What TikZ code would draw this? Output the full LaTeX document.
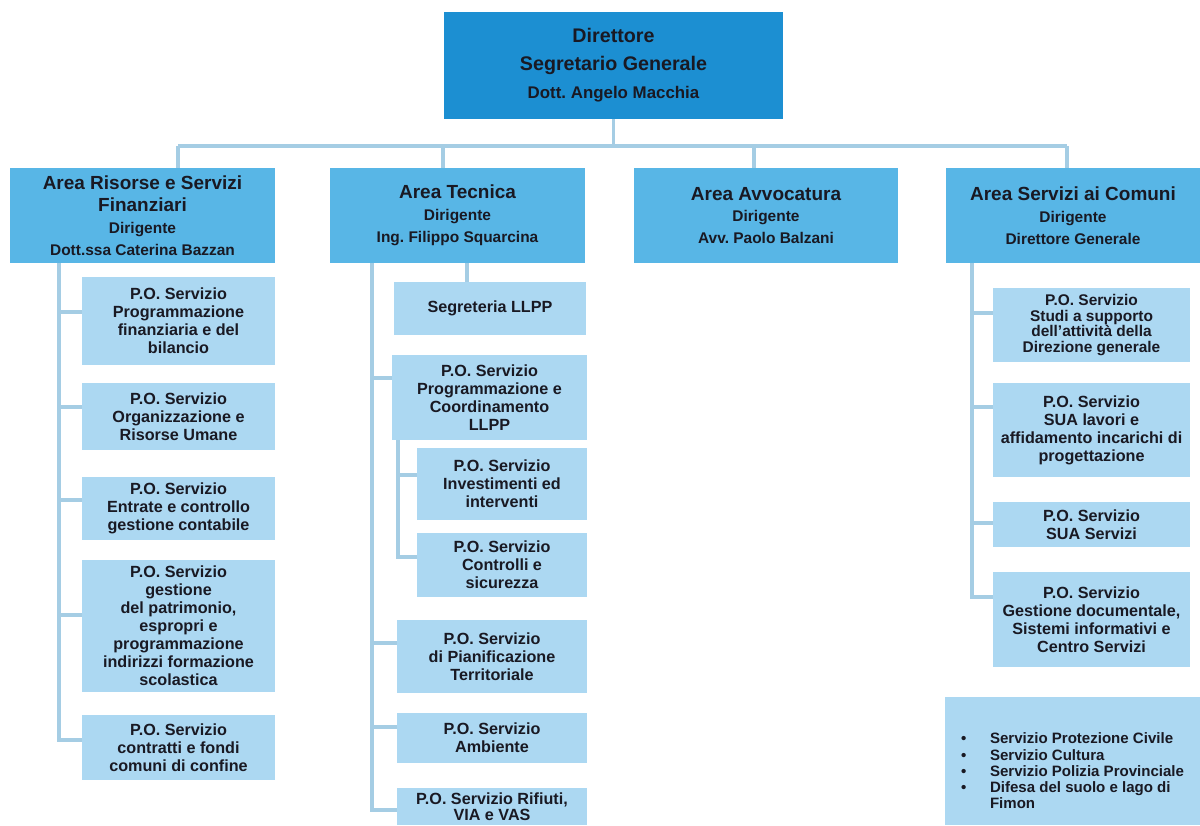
\documentclass[tikz,border=0pt]{standalone}
\usepackage{fontspec}
\setmainfont{Liberation Sans}
\usepackage{xcolor}
\usetikzlibrary{positioning}

\definecolor{dirblue}{RGB}{28,143,210}
\definecolor{areablue}{RGB}{88,182,230}
\definecolor{poblue}{RGB}{172,216,242}
\definecolor{linkblue}{RGB}{165,205,228}
\definecolor{ink}{RGB}{25,25,35}

\newcommand\dirfont{\fontsize{14}{20}\selectfont\bfseries}
\newcommand\dirsub{\fontsize{12}{20}\selectfont}
\newcommand\areafont{\fontsize{13.5}{15.5}\selectfont\bfseries}
\newcommand\areasub{\fontsize{11}{15.5}\selectfont}
\newcommand\pofont{\fontsize{11.5}{12.8}\selectfont\bfseries}
\newcommand\listfont{\fontsize{10.7}{11.5}\selectfont\bfseries}

\tikzset{
  box/.style={rectangle,inner sep=1pt,align=center,text=ink,font=\pofont},
  dirbox/.style={box,fill=dirblue,font=\dirfont},
  areabox/.style={box,fill=areablue,font=\areafont},
  pobox/.style={box,fill=poblue},
  bw/.style={minimum width=#1*0.025cm},
  bh/.style={minimum height=#1*0.025cm},
  link/.style={draw=linkblue,line width=2.8pt}
}

\begin{document}
\frenchspacing
\begin{tikzpicture}[x=0.025cm,y=-0.025cm]
\fill[white,use as bounding box] (0,0) rectangle (1200,825);
% vertice
\node[dirbox,bw=339,bh=107] (dir) at (613.5,65.5) {Direttore\\Segretario Generale\\ \dirsub Dott. Angelo Macchia};
% aree
\node[areabox,bw=265,bh=95] (ar) at (142.5,215.5) {Area Risorse e Servizi\\Finanziari\\ \areasub Dirigente\\ \areasub Dott.ssa Caterina Bazzan};
\node[areabox,bw=255,bh=95] (at) at (457.5,215.5) {Area Tecnica\\ \areasub Dirigente\\ \areasub Ing. Filippo Squarcina};
\node[areabox,bw=264,bh=95] (aa) at (766,215.5) {Area Avvocatura\\ \areasub Dirigente\\ \areasub Avv. Paolo Balzani};
\node[areabox,bw=254,bh=95] (as) at (1073,215.5) {Area Servizi ai Comuni\\ \areasub Dirigente\\ \areasub Direttore Generale};
% area risorse
\node[pobox,bw=193,bh=88] (l1) at (178.5,321) {P.O. Servizio\\Programmazione\\finanziaria e del\\bilancio};
\node[pobox,bw=193,bh=67] (l2) at (178.5,416.5) {P.O. Servizio\\Organizzazione e\\Risorse Umane};
\node[pobox,bw=193,bh=63] (l3) at (178.5,508.5) {P.O. Servizio\\Entrate e controllo\\gestione contabile};
\node[pobox,bw=193,bh=132] (l4) at (178.5,626) {P.O. Servizio\\gestione\\del patrimonio,\\espropri e\\programmazione\\indirizzi formazione\\scolastica};
\node[pobox,bw=193,bh=65] (l5) at (178.5,747.5) {P.O. Servizio\\contratti e fondi\\comuni di confine};
% area tecnica
\node[pobox,bw=192,bh=53] (t0) at (490,308.5) {Segreteria LLPP};
\node[pobox,bw=195,bh=85] (t1) at (489.5,397.5) {P.O. Servizio\\Programmazione e\\Coordinamento\\LLPP};
\node[pobox,bw=170,bh=72] (t2) at (502,484) {P.O. Servizio\\Investimenti ed\\interventi};
\node[pobox,bw=170,bh=64] (t3) at (502,565) {P.O. Servizio\\Controlli e\\sicurezza};
\node[pobox,bw=190,bh=73] (t4) at (492,656.5) {P.O. Servizio\\di Pianificazione\\Territoriale};
\node[pobox,bw=190,bh=50] (t5) at (492,738) {P.O. Servizio\\Ambiente};
\node[pobox,bw=190,bh=37,font=\fontsize{11.5}{11.5}\selectfont\bfseries] (t6) at (492,806.5) {P.O. Servizio Rifiuti,\\VIA e VAS};
% area servizi ai comuni
\node[pobox,bw=197,bh=74,font=\fontsize{11}{11}\selectfont\bfseries] (s1) at (1091.5,325) {P.O. Servizio\\Studi a supporto\\dell’attività della\\Direzione generale};
\node[pobox,bw=197,bh=94] (s2) at (1091.5,430) {P.O. Servizio\\SUA lavori e\\affidamento incarichi di\\progettazione};
\node[pobox,bw=197,bh=45] (s3) at (1091.5,524.5) {P.O. Servizio\\SUA Servizi};
\node[pobox,bw=197,bh=95] (s4) at (1091.5,619.5) {P.O. Servizio\\Gestione documentale,\\Sistemi informativi e\\Centro Servizi};
\node[pobox,bw=255,bh=128,font=\listfont] (s5) at (1072.5,761) {\begin{tabular}{@{}p{0.725cm}@{}l@{}}
  \rule{0pt}{25pt}• & Servizio Protezione Civile\\
  • & Servizio Cultura\\
  • & Servizio Polizia Provinciale\\
  • & Difesa del suolo e lago di\\
    & Fimon
\end{tabular}};
% collegamenti
\coordinate (bl) at (178,146);
\coordinate (bt) at (443,146);
\coordinate (ba) at (754,146);
\coordinate (br) at (1067,146);
\draw[link] (dir.south) -- (dir.south |- bl);
\draw[link] (bl) -- (br);
\draw[link] (bl) -- (bl |- ar.north);
\draw[link] (bt) -- (bt |- at.north);
\draw[link] (ba) -- (ba |- aa.north);
\draw[link] (br) -- (br |- as.north);
% rami area risorse
\coordinate (lt) at (59,263);
\draw[link] (lt) |- ([yshift=0.19cm]l5.west);
\draw[link] ([yshift=0.22cm]l1.west) -| (lt);
\draw[link] ([yshift=0.24cm]l2.west) -| (lt);
\draw[link] ([yshift=0.21cm]l3.west) -| (lt);
\draw[link] ([yshift=0.28cm]l4.west) -| (lt);
% rami area tecnica
\coordinate (tt) at (372,263);
\draw[link] ([xshift=0.24cm]at.south) -- ([xshift=0.24cm]at.south |- t0.north);
\draw[link] (tt) |- ([yshift=-0.09cm]t6.west);
\draw[link] ([yshift=0.49cm]t1.west) -| (tt);
\draw[link] ([yshift=0.34cm]t4.west) -| (tt);
\draw[link] ([yshift=0.28cm]t5.west) -| (tt);
\draw[link] ([xshift=0.15cm]t1.south west) |- ([yshift=0.2cm]t3.west);
\draw[link] ([yshift=0.22cm]t2.west) -| ([xshift=0.15cm]t1.south west);
% rami area servizi
\coordinate (st) at (972,263);
\draw[link] (st) |- ([yshift=0.56cm]s4.west);
\draw[link] ([yshift=0.3cm]s1.west) -| (st);
\draw[link] ([yshift=0.58cm]s2.west) -| (st);
\draw[link] ([yshift=0.04cm]s3.west) -| (st);
\end{tikzpicture}
\end{document}
